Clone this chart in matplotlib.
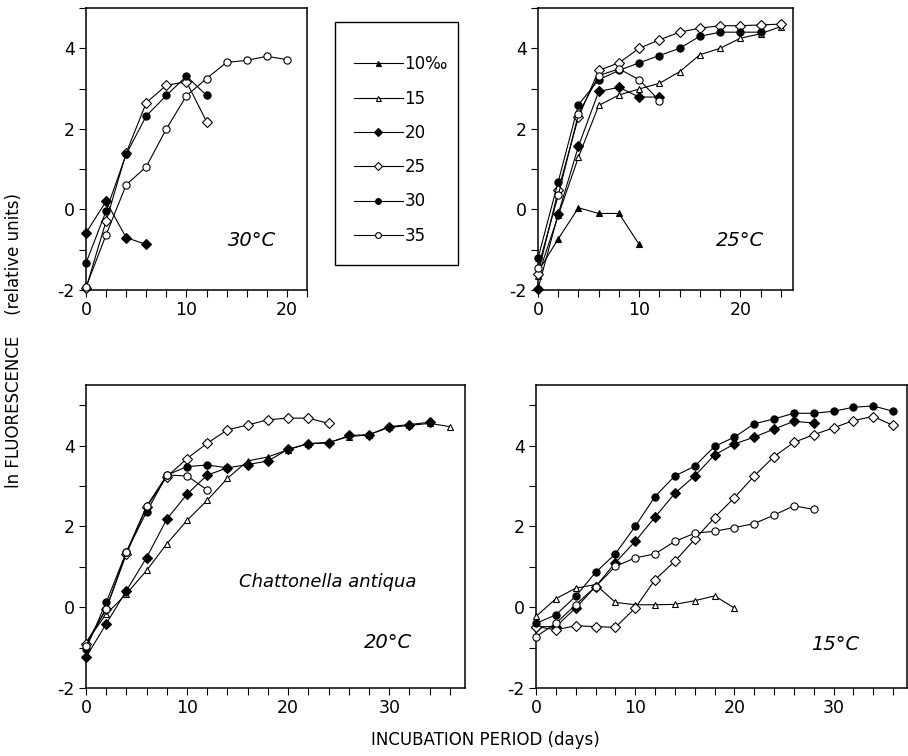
import matplotlib
matplotlib.use('Agg')
import matplotlib.pyplot as plt
from matplotlib.lines import Line2D
from matplotlib.patches import Rectangle
from matplotlib.ticker import MultipleLocator

plt.rcParams['font.family'] = ['DejaVu Sans']
plt.rcParams['axes.unicode_minus'] = False

# sampling days (every 2 days)
DAYS = [0, 2, 4, 6, 8, 10, 12, 14, 16, 18, 20, 22, 24, 26, 28, 30, 32, 34, 36]

salinity_labels = ['10‰', '15', '20', '25', '30', '35']

# ---- 30 °C ----
c30_s20 = [-0.58, 0.2, -0.7, -0.87]
c30_s25 = [-1.96, -0.29, 1.4, 2.65, 3.08, 3.17, 2.18]
c30_s30 = [-1.33, -0.04, 1.37, 2.32, 2.83, 3.31, 2.83]
c30_s35 = [-1.93, -0.63, 0.61, 1.06, 2.0, 2.82, 3.25, 3.65, 3.7, 3.8, 3.72]

# ---- 25 °C ----
c25_s10 = [-1.55, -0.73, 0.04, -0.1, -0.1, -0.87]
c25_s15 = [-1.65, -0.15, 1.3, 2.58, 2.84, 2.99, 3.13, 3.42, 3.84, 4.0, 4.25, 4.36, 4.54]
c25_s20 = [-1.97, -0.11, 1.57, 2.93, 3.03, 2.79, 2.79]
c25_s25 = [-1.6, 0.47, 2.29, 3.45, 3.64, 4.0, 4.21, 4.4, 4.5, 4.56, 4.56, 4.58, 4.6]
c25_s30 = [-1.21, 0.69, 2.6, 3.22, 3.45, 3.64, 3.82, 4.0, 4.3, 4.4, 4.4, 4.4]
c25_s35 = [-1.45, 0.35, 2.37, 3.32, 3.49, 3.22, 2.7]

# ---- 20 °C ----
c20_s15 = [-0.87, -0.17, 0.33, 0.91, 1.57, 2.15, 2.65, 3.19, 3.62, 3.72, 3.9, 4.05,
           4.08, 4.22, 4.27, 4.45, 4.5, 4.55, 4.47]
c20_s20 = [-1.24, -0.41, 0.41, 1.23, 2.18, 2.8, 3.27, 3.45, 3.53, 3.62, 3.91, 4.05,
           4.06, 4.25, 4.27, 4.47, 4.52, 4.58]
c20_s25 = [-0.9, -0.04, 1.32, 2.48, 3.23, 3.68, 4.06, 4.39, 4.51, 4.64, 4.68, 4.68, 4.55]
c20_s30 = [-1.03, 0.12, 1.37, 2.36, 3.27, 3.48, 3.52, 3.45]
c20_s35 = [-0.95, -0.04, 1.37, 2.5, 3.27, 3.25, 2.9]

# ---- 15 °C ----
c15_s15 = [-0.23, 0.21, 0.47, 0.56, 0.12, 0.06, 0.06, 0.07, 0.16, 0.28, -0.02]
c15_s20 = [-0.48, -0.48, -0.02, 0.51, 1.1, 1.63, 2.23, 2.82, 3.25, 3.77, 4.04, 4.21,
           4.41, 4.6, 4.56]
c15_s25 = [-0.48, -0.56, -0.46, -0.48, -0.5, -0.02, 0.68, 1.14, 1.68, 2.22, 2.71, 3.25,
           3.73, 4.08, 4.27, 4.44, 4.62, 4.72, 4.5]
c15_s30 = [-0.4, -0.19, 0.27, 0.86, 1.32, 2.0, 2.74, 3.25, 3.49, 3.98, 4.21, 4.54,
           4.66, 4.8, 4.8, 4.85, 4.95, 4.98, 4.85]
c15_s35 = [-0.73, -0.4, 0.06, 0.51, 1.01, 1.22, 1.32, 1.63, 1.83, 1.88, 1.97, 2.07,
           2.28, 2.51, 2.42]

STYLE = {
    '10‰': dict(marker='^', mfc='black', ms=4.5),
    '15': dict(marker='^', mfc='white', ms=4.5),
    '20': dict(marker='D', mfc='black', ms=5.5),
    '25': dict(marker='D', mfc='white', ms=5.5),
    '30': dict(marker='o', mfc='black', ms=5.2),
    '35': dict(marker='o', mfc='white', ms=5.2),
}

panels = [
    dict(rect=[86, 8, 307, 290], xlim=(0, 22), ylim=(-2, 5.0), label='30°C',
         lpos=(252, 240),
         series=[('20', c30_s20), ('25', c30_s25), ('30', c30_s30), ('35', c30_s35)]),
    dict(rect=[538, 8, 793, 290], xlim=(0, 25.2), ylim=(-2, 5.0), label='25°C',
         lpos=(740, 240),
         series=[('10‰', c25_s10), ('15', c25_s15), ('20', c25_s20), ('25', c25_s25),
                 ('30', c25_s30), ('35', c25_s35)]),
    dict(rect=[86, 385, 465, 688], xlim=(0, 37.5), ylim=(-2, 5.5), label='20°C',
         lpos=(388, 643),
         series=[('15', c20_s15), ('20', c20_s20), ('25', c20_s25), ('30', c20_s30),
                 ('35', c20_s35)]),
    dict(rect=[536, 385, 907, 688], xlim=(0, 37.4), ylim=(-2, 5.5), label='15°C',
         lpos=(835, 645),
         series=[('15', c15_s15), ('20', c15_s20), ('25', c15_s25), ('30', c15_s30),
                 ('35', c15_s35)]),
]

W, H = 908, 756
fig = plt.figure(figsize=(W / 100, H / 100), dpi=100)

for p in panels:
    l, t, r, b = p['rect']
    ax = fig.add_axes([l / W, 1 - b / H, (r - l) / W, (b - t) / H])
    for name, vals in p['series']:
        st = STYLE[name]
        ax.plot(DAYS[:len(vals)], vals, color='black', lw=0.8, marker=st['marker'],
                mfc=st['mfc'], mec='black', mew=0.8, ms=st['ms'], clip_on=False, zorder=3)
    ax.set_xlim(*p['xlim'])
    ax.set_ylim(*p['ylim'])
    ax.xaxis.set_major_locator(MultipleLocator(10))
    ax.xaxis.set_minor_locator(MultipleLocator(2))
    ax.yaxis.set_major_locator(MultipleLocator(2))
    ax.yaxis.set_minor_locator(MultipleLocator(1))
    ax.tick_params(which='both', direction='out', length=5, width=0.8, labelsize=12.5,
                   top=False, right=False, pad=3)
    for s in ax.spines.values():
        s.set_linewidth(1.1)
    fig.text(p['lpos'][0] / W, 1 - p['lpos'][1] / H, p['label'], ha='center',
             va='center', fontsize=14, style='italic', fontweight='light')

fig.text(328 / W, 1 - 582 / H, 'Chattonella antiqua', ha='center', va='center',
         fontsize=13, style='italic')

fig.text(14 / W, 1 - 340 / H, 'ln FLUORESCENCE    (relative units)', rotation=90,
         ha='center', va='center', fontsize=12)
fig.text(485 / W, 1 - 740 / H, 'INCUBATION PERIOD (days)', ha='center', va='center',
         fontsize=12)

# legend box
fig.patches.append(Rectangle((335 / W, 1 - 265 / H), (458 - 335) / W, (265 - 22) / H,
                             transform=fig.transFigure, fill=False, edgecolor='black',
                             linewidth=1.0))
handles = [Line2D([], [], color='black', lw=0.8, marker=STYLE[n]['marker'],
                  mfc=STYLE[n]['mfc'], mec='black', mew=0.8, ms=STYLE[n]['ms'] * 0.8)
           for n in salinity_labels]
leg = fig.legend(handles, salinity_labels, loc='center',
                 bbox_to_anchor=(401 / W, 1 - 150 / H), frameon=False,
                 fontsize=12, handlelength=2.9, handletextpad=0.1,
                 labelspacing=0.98, borderpad=0, borderaxespad=0)

fig.savefig('out.png', dpi=100)
